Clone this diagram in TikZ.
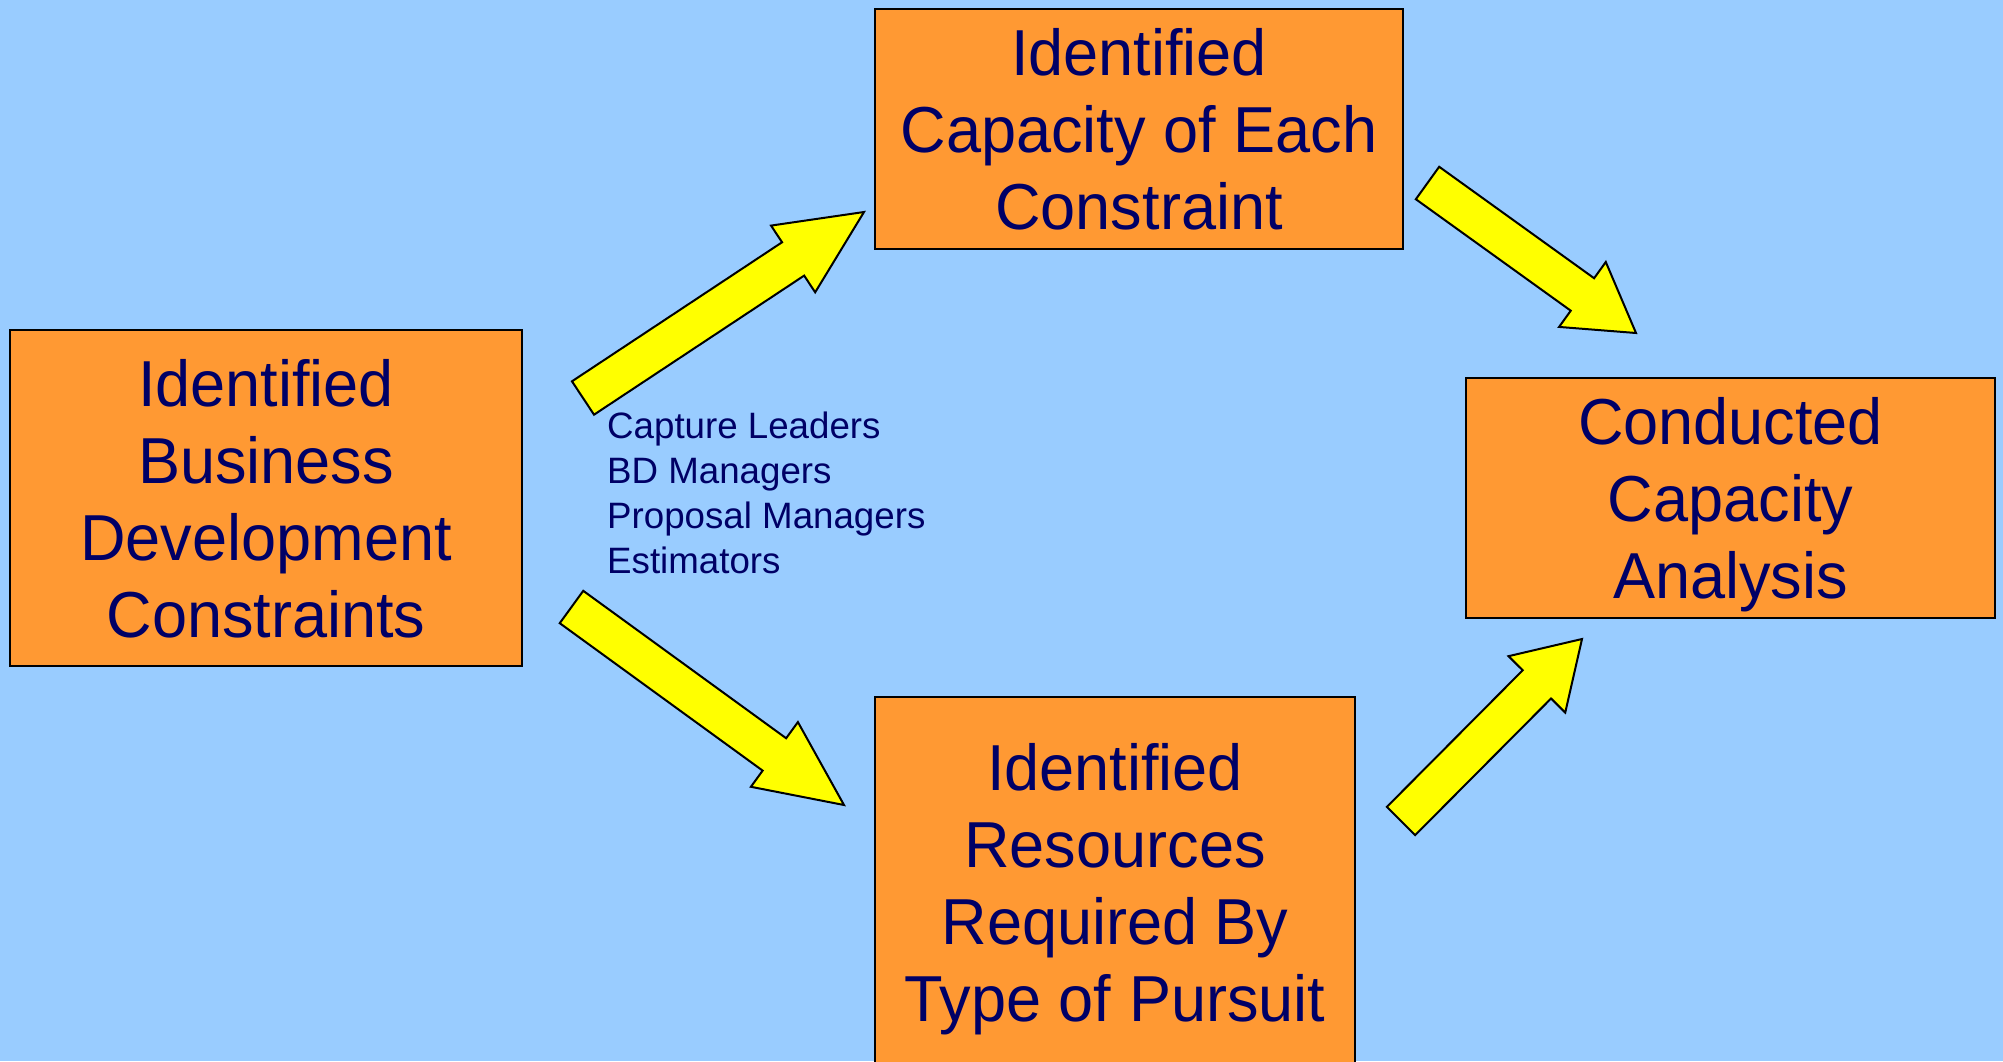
\documentclass[tikz,border=0pt]{standalone}
\usepackage{fontspec}
\setmainfont{Liberation Sans}
\newfontfamily\stagefont{Liberation Sans}[FakeStretch=0.97]
\usetikzlibrary{calc}

\definecolor{sky}{HTML}{99CCFF}
\definecolor{stageorange}{HTML}{FF9933}
\definecolor{arrowyellow}{HTML}{FFFF00}
\definecolor{navy}{HTML}{000066}

\tikzset{
  stage/.style={draw=black, line width=2pt, fill=stageorange, text=navy,
    align=center, inner sep=0pt, text depth=0pt,
    font=\stagefont\fontsize{65}{77}\selectfont},
  bigarr/.style={draw=black, line width=2pt, fill=arrowyellow, line join=miter},
  rolelist/.style={text=navy, align=left, inner sep=0pt,
    font=\fontsize{36.7}{45}\selectfont}
}

% block arrow from tail centre #1 to tip #2, head length #3 (pt);
% shaft 40pt wide, head 80pt wide
\newcommand\blockarrow[3]{%
  \draw[bigarr] let \p1=(#1), \p2=(#2),
      \n1={atan2(\y2-\y1,\x2-\x1)},
      \n2={veclen(\x2-\x1,\y2-\y1)-#3} in
    ($(\p1)+(\n1+90:20pt)$)
    -- ($(\p1)+(\n1:\n2)+(\n1+90:20pt)$)
    -- ($(\p1)+(\n1:\n2)+(\n1+90:40pt)$)
    -- (\p2)
    -- ($(\p1)+(\n1:\n2)+(\n1-90:40pt)$)
    -- ($(\p1)+(\n1:\n2)+(\n1-90:20pt)$)
    -- ($(\p1)+(\n1-90:20pt)$)
    -- cycle;}

\begin{document}
\begin{tikzpicture}[x=1pt, y=-1pt]
  \clip (0,0) rectangle (2003,1061);
  \fill[sky] (0,0) rectangle (2003,1061);

  % process stages
  \node[stage, minimum width=512pt, minimum height=336pt] (bd) at (266,498)
    {Identified\\Business\\Development\\Constraints};
  \node[stage, minimum width=528pt, minimum height=240pt] (cap) at (1139,129)
    {Identified\\Capacity of Each\\Constraint};
  \node[stage, minimum width=529pt, minimum height=240pt] (ana) at (1730.5,498)
    {Conducted\\Capacity\\Analysis};
  \node[stage, minimum width=480pt, minimum height=370pt] (res) at (1115,882)
    {Identified\\Resources\\Required By\\Type of Pursuit};

  % roles
  \node[rolelist, anchor=north west] (roles) at (607,412)
    {Capture Leaders\\BD Managers\\Proposal Managers\\Estimators};

  % arrow end points
  \coordinate (a1s) at (583,398);    \coordinate (a1e) at (864,212);
  \coordinate (a2s) at (1427.5,183); \coordinate (a2e) at (1636,333);
  \coordinate (a3s) at (571.5,607);  \coordinate (a3e) at (844,805);
  \coordinate (a4s) at (1401,821);   \coordinate (a4e) at (1582,639);

  \blockarrow{a1s}{a1e}{85}
  \blockarrow{a2s}{a2e}{66}
  \blockarrow{a3s}{a3e}{86}
  \blockarrow{a4s}{a4e}{64}
\end{tikzpicture}
\end{document}
